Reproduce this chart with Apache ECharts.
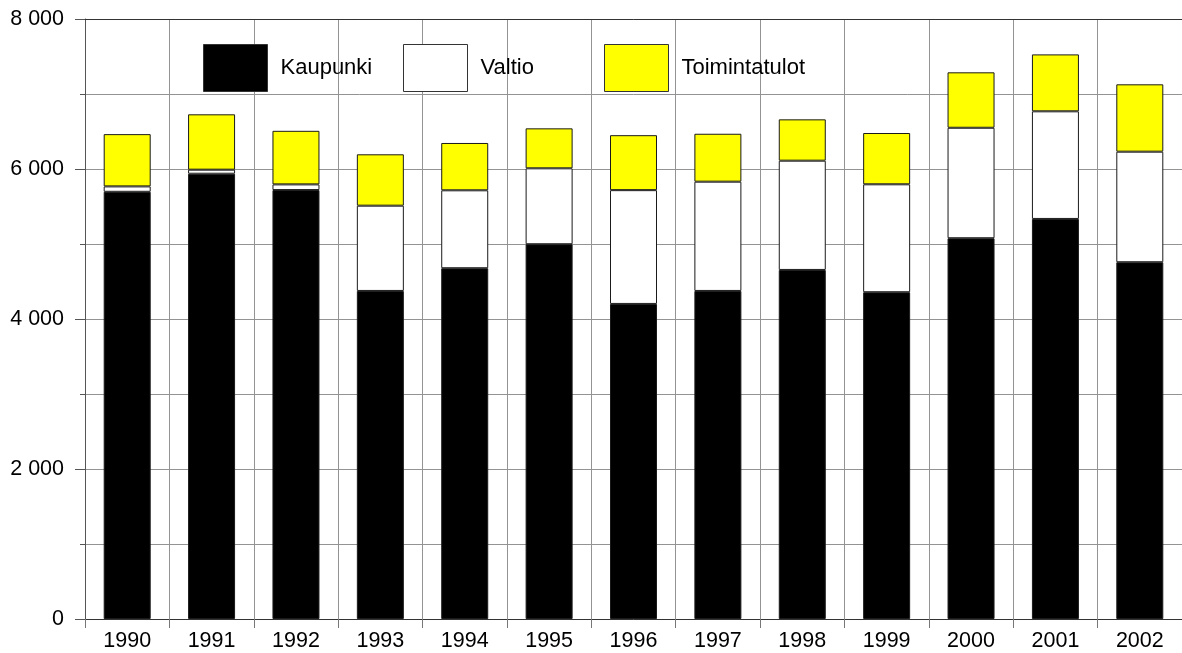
<!DOCTYPE html>
<html>
<head>
<meta charset="utf-8">
<script src="https://cdn.jsdelivr.net/npm/echarts@6/dist/echarts.min.js"></script>
<style>
    html, body { margin: 0; padding: 0; background: #fff; }
    #chart { width: 1182px; height: 653px; }
</style>
</head>
<body>
<div id="chart"></div>
<script>
const years = ['1990', '1991', '1992', '1993', '1994', '1995', '1996', '1997', '1998', '1999', '2000', '2001', '2002'];
const kaupunki = [5696, 5937, 5719, 4374, 4677, 4997, 4201, 4374, 4654, 4357, 5077, 5334, 4757];
const valtio = [72, 54, 76, 1137, 1039, 1012, 1517, 1457, 1457, 1439, 1473, 1435, 1474];
const toimintatulot = [697, 738, 714, 685, 631, 533, 733, 639, 551, 684, 739, 759, 898];

const font = 'Liberation Sans, Arial, sans-serif';

// Thousands with a space, e.g. "8 000".
const formatThousands = (v) => String(v).replace(/\B(?=(\d{3})+(?!\d))/g, ' ');

const chart = echarts.init(document.getElementById('chart'));

const legendAt = (name, left) => ({
    data: [name],
    left: left,
    top: 44,
    itemWidth: 64,
    itemHeight: 47,
    icon: 'rect',
    padding: 0,
    selectedMode: false,
    itemStyle: {borderWidth: 1, borderColor: '#333'},
    textStyle: {fontFamily: font, fontSize: 22, color: '#000', padding: [0, 0, 0, 8]},
});

const barSeries = (name, data, color) => ({
    name: name,
    type: 'bar',
    stack: 'total',
    data: data,
    barWidth: 47,
    itemStyle: {color: color, borderColor: '#1a1a1a', borderWidth: 1},
    emphasis: {disabled: true},
});

chart.setOption({
    animation: false,
    backgroundColor: '#fff',
    grid: {left: 85, right: 0, top: 19, bottom: 34},
    legend: [
        legendAt('Kaupunki', 203),
        legendAt('Valtio', 403),
        legendAt('Toimintatulot', 604),
    ],
    xAxis: [{
        type: 'category',
        data: years,
        boundaryGap: true,
        axisLine: {lineStyle: {color: '#333', width: 1}},
        axisTick: {show: true, length: 9, interval: 0, lineStyle: {color: '#777'}},
        axisLabel: {fontFamily: font, fontSize: 21.5, color: '#000', margin: 11, interval: 0},
        splitLine: {show: true, interval: 0, lineStyle: {color: '#939393', width: 1}},
    }, {
        type: 'category',
        data: years,
        position: 'top',
        axisLine: {lineStyle: {color: '#333', width: 1}},
        axisTick: {show: false},
        axisLabel: {show: false},
        splitLine: {show: false},
    }],
    yAxis: {
        type: 'value',
        min: 0,
        max: 8000,
        interval: 2000,
        axisLine: {show: true, lineStyle: {color: '#555', width: 1}},
        axisTick: {show: true, length: 10, lineStyle: {color: '#555'}},
        minorTick: {show: true, splitNumber: 2, length: 5, lineStyle: {color: '#555'}},
        axisLabel: {fontFamily: font, fontSize: 21.5, color: '#000', margin: 21, formatter: formatThousands},
        splitLine: {show: true, lineStyle: {color: '#939393', width: 1}},
        minorSplitLine: {show: true, lineStyle: {color: '#939393', width: 1}},
    },
    series: [
        barSeries('Kaupunki', kaupunki, '#000'),
        barSeries('Valtio', valtio, '#fff'),
        barSeries('Toimintatulot', toimintatulot, '#ffff00'),
    ],
});
</script>
</body>
</html>
